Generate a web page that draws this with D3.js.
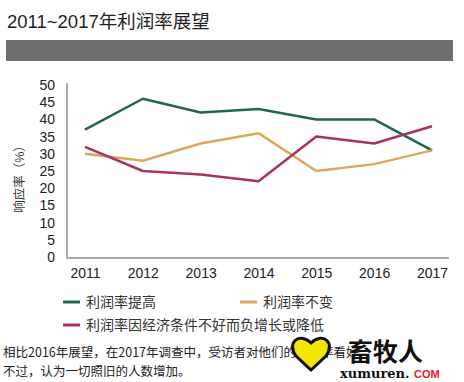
<!DOCTYPE html>
<html><head><meta charset="utf-8">
<script src="https://cdn.jsdelivr.net/npm/d3@7"></script>
<style>body{margin:0;background:#fff;}svg{display:block;}</style>
</head><body>
<script>
const years = ["2011","2012","2013","2014","2015","2016","2017"];
const yTicks = [0,5,10,15,20,25,30,35,40,45,50];
const seriesNames = ["利润率提高","利润率不变","利润率因经济条件不好而负增长或降低"];
const improve = [37,46,42,43,40,40,31];
const same = [30,28,33,36,25,27,31];
const decline = [32,25,24,22,35,33,38];
const colors = ["#22664c","#dca85e","#a8335c"];

const W=464,H=382;
const svg=d3.select("body").append("svg").attr("width",W).attr("height",H);
const font="'Liberation Sans','Noto Sans CJK SC',Arial,sans-serif";

svg.append("text").attr("x",7).attr("y",28).attr("font-family",font).attr("font-size",18.5).attr("fill","#222").text("2011~2017年利润率展望");
svg.append("rect").attr("x",6).attr("y",40).attr("width",447).attr("height",21).attr("fill","#6e6e70");

const x=d3.scalePoint().domain(years).range([85,432]);
const y=d3.scaleLinear().domain([0,50]).range([257,85]);

const yAxis=svg.append("g").attr("transform","translate(67,0)").call(d3.axisLeft(y).tickValues(yTicks).tickSize(0).tickPadding(12));
yAxis.select(".domain").attr("stroke","#aaa").attr("stroke-width",2).attr("d","M0,83V258");
yAxis.selectAll("text").attr("font-family","'Liberation Sans',Arial,sans-serif").attr("font-size",14).attr("fill","#222");

const xAxis=svg.append("g").attr("transform","translate(0,258)").call(d3.axisBottom(x).tickSize(0).tickPadding(10));
xAxis.select(".domain").attr("stroke","#aaa").attr("stroke-width",2).attr("d","M66,0H449");
xAxis.selectAll("text").attr("font-family","'Liberation Sans',Arial,sans-serif").attr("font-size",14).attr("fill","#222");

svg.append("text").attr("transform","translate(24,176) rotate(-90)").attr("text-anchor","middle")
  .attr("font-family",font).attr("font-size",12.5).attr("fill","#333").text("响应率（%）");

const line=d3.line().x((d,i)=>x(years[i])).y(d=>y(d));
[improve,same,decline].forEach((s,k)=>{
  svg.append("path").attr("d",line(s)).attr("fill","none").attr("stroke",colors[k]).attr("stroke-width",2.5).attr("stroke-linejoin","round");
});

const leg=[[63,302],[240,302],[63,325]];
seriesNames.forEach((n,k)=>{
  svg.append("line").attr("x1",leg[k][0]).attr("x2",leg[k][0]+17).attr("y1",leg[k][1]).attr("y2",leg[k][1]).attr("stroke",colors[k]).attr("stroke-width",3);
  svg.append("text").attr("x",leg[k][0]+23).attr("y",leg[k][1]+5).attr("font-family",font).attr("font-size",14).attr("fill","#333").text(n);
});

const noteFont="'Noto Sans CJK SC',sans-serif";
svg.append("text").attr("x",3).attr("y",357).attr("font-family",noteFont).attr("font-size",12.5).attr("fill","#222").text("相比2016年展望，在2017年调查中，受访者对他们的利润率看好");
svg.append("text").attr("x",3).attr("y",376).attr("font-family",noteFont).attr("font-size",12.5).attr("fill","#222").text("不过，认为一切照旧的人数增加。");

// watermark
svg.append("path").attr("d","M311,343 C300,332 286,342 296,356 L311,370 L326,356 C336,342 322,332 311,343Z").attr("fill","#f2e600").attr("stroke","#111").attr("stroke-width",3);
svg.append("text").attr("x",348).attr("y",361).attr("font-family",noteFont).attr("font-size",25).attr("font-weight","bold").attr("fill","#111").text("畜牧人");
svg.append("text").attr("x",340).attr("y",378).attr("font-family","'DejaVu Serif',serif").attr("font-size",13).attr("font-weight","bold").attr("fill","#111").text("xumuren.");
svg.append("text").attr("x",414).attr("y",378).attr("font-family","'Liberation Sans',sans-serif").attr("font-size",11).attr("font-weight","bold").attr("fill","#d22").text("COM");
</script>
</body></html>
